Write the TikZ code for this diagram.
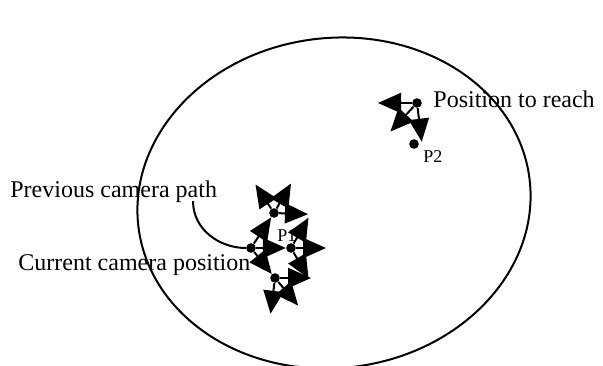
\documentclass[tikz,border=0pt]{standalone}
\usepackage{fontspec}
\setmainfont{Liberation Serif}
\usepackage{tikz}
\usetikzlibrary{arrows.meta, positioning}

\begin{document}
\begin{tikzpicture}[x=0.5pt, y=0.5pt,
		campos/.style={circle, fill=black, inner sep=0pt, minimum size=4.8pt},
		move/.style={line width=1pt, -{Triangle[length=11.5pt, width=10pt]}},
		lbl/.style={inner sep=0pt, anchor=base west, font=\fontsize{12}{14}\selectfont},
		ptlbl/.style={inner sep=0pt, anchor=base west, font=\fontsize{9}{11}\selectfont}]
	\useasboundingbox (0,0) rectangle (603,365);

	% labels
	\node[lbl] (prevlabel) at (10,168) {Previous camera path};
	\node[lbl] (curlabel) at (18,95) {Current camera position};
	\node[lbl] (reachlabel) at (433,258) {Position to reach};
	\node[ptlbl] (ponelabel) at (277,124) {P1};
	\node[ptlbl] (ptwolabel) at (423,203) {P2};

	% search area
	\draw[line width=1pt, rotate around={7:(334,162)}] (334,162) ellipse [x radius=197, y radius=165];

	% camera positions
	\node[campos] (cam) at (251,117) {};
	\node[campos] (pone) at (291,117) {};
	\node[campos] (up) at (274,152) {};
	\node[campos] (low) at (275,87) {};
	\node[campos] (ptwo) at (414,221) {};
	\node[campos] (top) at (417,262) {};
	\coordinate (pathstart) at (193,164);

	% previous path
	\draw[line width=1pt] (pathstart) .. controls (193,135) and (220,117) .. (cam);

	% first moves
	\foreach \n in {pone, up, low}
		\draw[move] (cam) -- (\n);

	% next moves
	\foreach \a in {-2, 60, 123}
		\draw[move] (up) -- ++(\a:34);
	\foreach \a in {-60, 0, 60}
		\draw[move] (pone) -- ++(\a:35);
	\foreach \a in {0, -50, -97}
		\draw[move] (low) -- ++(\a:36);
	\foreach \a in {180, 227, 277}
		\draw[move] (top) -- ++(\a:39);
\end{tikzpicture}
\end{document}
